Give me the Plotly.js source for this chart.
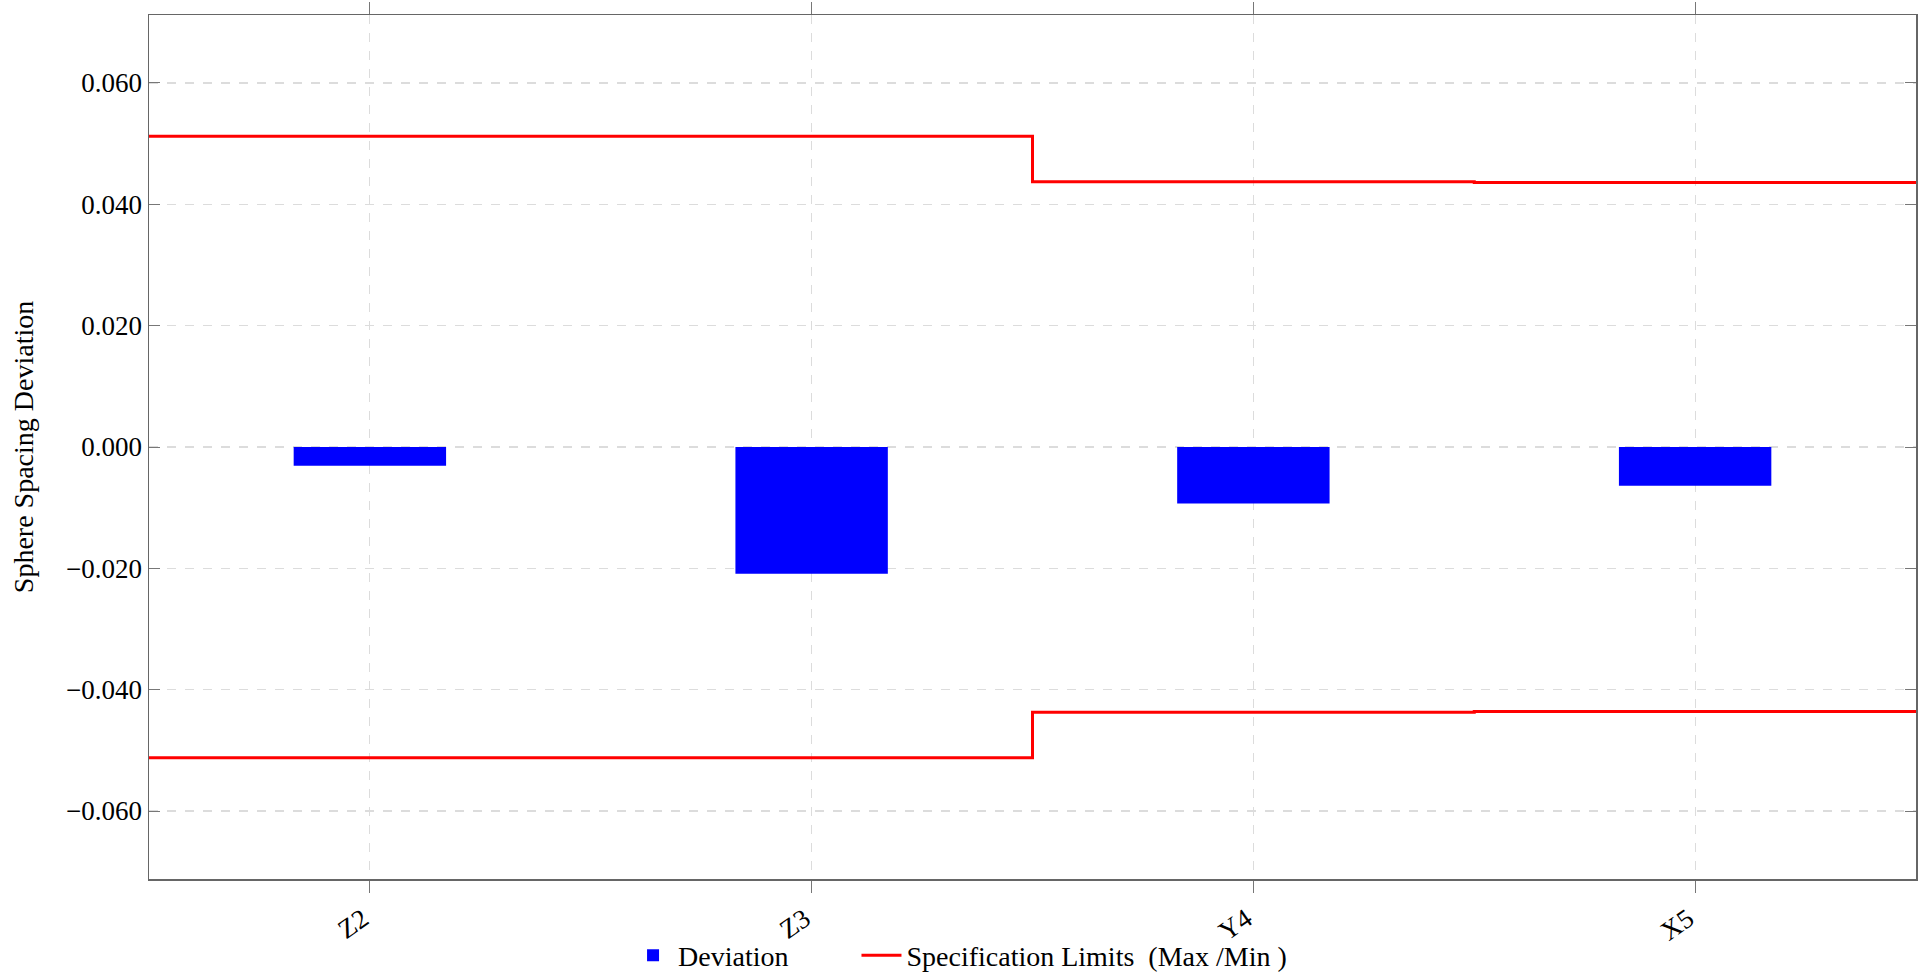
<!DOCTYPE html>
<html>
<head>
<meta charset="utf-8">
<script src="https://cdn.plot.ly/plotly-3.0.1.min.js"></script>
<style>html,body{margin:0;padding:0;background:#fff;}#chart{width:1926px;height:974px;}</style>
</head>
<body>
<div id="chart"></div>
<script>
const categories = ['Z2', 'Z3', 'Y4', 'X5'];
const deviation = [-0.0031, -0.0209, -0.0093, -0.0064];
const specMax = [0.0512, 0.0512, 0.0437, 0.0436];
const specMin = [-0.0512, -0.0512, -0.0437, -0.0436];
const yTickVals = [-0.06, -0.04, -0.02, 0.0, 0.02, 0.04, 0.06];

const idx = categories.map((c, i) => i);
// step edges: each category occupies [i-0.5, i+0.5]
const stepX = idx.map(i => i - 0.5).concat([categories.length - 0.5]);
const stepMax = specMax.concat([specMax[specMax.length - 1]]);
const stepMin = specMin.concat([specMin[specMin.length - 1]]);

const FONT = 'Liberation Serif, DejaVu Serif, serif';
const NB = '\u00a0';

const traces = [
  {
    type: 'bar', x: idx, y: deviation, name: 'Deviation' + NB.repeat(9),
    width: 0.345, marker: {color: '#0000ff', line: {width: 0}}
  },
  {
    type: 'scatter', mode: 'lines', x: stepX, y: stepMax,
    name: 'Specification Limits' + NB + NB + '(Max /Min )', legendgroup: 'spec',
    line: {color: '#ff0000', width: 3, shape: 'hv'}
  },
  {
    type: 'scatter', mode: 'lines', x: stepX, y: stepMin,
    name: 'Specification Limits' + NB + NB + '(Max /Min )', legendgroup: 'spec', showlegend: false,
    line: {color: '#ff0000', width: 3, shape: 'hv'}
  }
];

const layout = {
  width: 1926, height: 974,
  margin: {l: 149, r: 10, t: 15, b: 95, autoexpand: false},
  paper_bgcolor: '#fff', plot_bgcolor: '#fff',
  font: {family: FONT, size: 27, color: '#000'},
  showlegend: true,
  legend: {
    orientation: 'h', x: 0.459, xanchor: 'center', y: -0.0887, yanchor: 'middle',
    bgcolor: 'rgba(0,0,0,0)',
    font: {family: FONT, size: 28, color: '#000'}, itemwidth: 40, tracegroupgap: 0
  },
  xaxis: {
    range: [-0.5, categories.length - 0.5],
    tickvals: idx, ticktext: categories,
    tickangle: -35, ticklabelshift: -7,
    ticks: 'outside', ticklen: 12, tickcolor: '#777', tickwidth: 1,
    showline: true, linecolor: '#666', linewidth: 1.5, mirror: 'ticks',
    showgrid: true, gridcolor: '#dcdcdc', griddash: 'dash', gridwidth: 1.2,
    zeroline: false,
    tickfont: {family: FONT, size: 27, color: '#000'}
  },
  yaxis: {
    range: [-0.0712, 0.0712],
    tickvals: yTickVals, tickformat: '.3f',
    ticks: 'inside', ticklen: 11, tickcolor: '#777', tickwidth: 1,
    showline: true, linecolor: '#666', linewidth: 1.5, mirror: 'ticks',
    showgrid: true, gridcolor: '#dcdcdc', griddash: 'dash', gridwidth: 1.2,
    zeroline: false,
    tickfont: {family: FONT, size: 27, color: '#000'},
    title: {text: 'Sphere Spacing Deviation', font: {family: FONT, size: 28, color: '#000'}, standoff: 24}
  }
};

Plotly.newPlot('chart', traces, layout, {displayModeBar: false, staticPlot: true});
</script>
</body>
</html>
